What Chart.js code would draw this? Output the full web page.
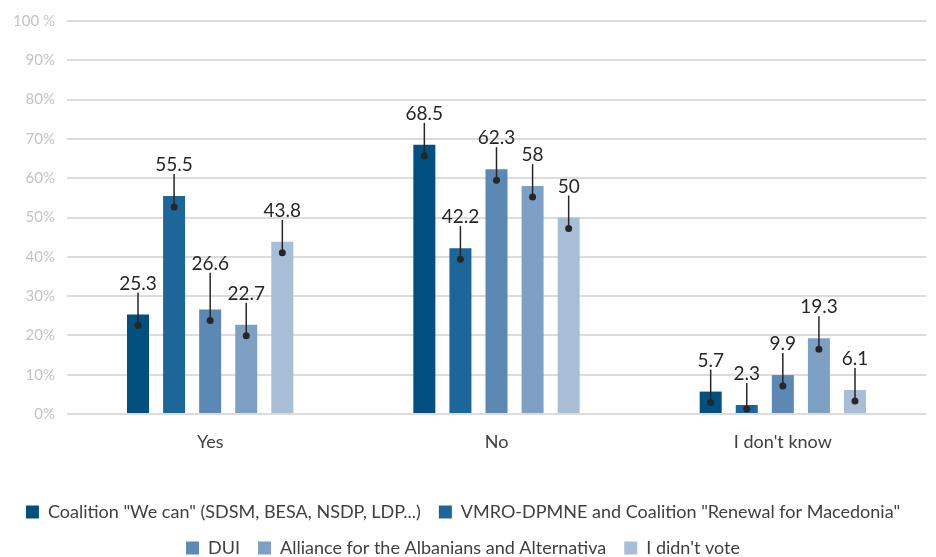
<!DOCTYPE html>
<html>
<head>
<meta charset="utf-8">
<script src="https://cdn.jsdelivr.net/npm/chart.js@4.4.1/dist/chart.umd.min.js"></script>
<style>
  html, body { margin: 0; padding: 0; background: #fff; }
  #contenedor { width: 936px; height: 557px; }
</style>
</head>
<body>
<div id="contenedor"><canvas id="grafico"></canvas></div>
<script>
// Datos
const categorias = ['Yes', 'No', "I don't know"];
const nombresSeries = [
  'Coalition "We can" (SDSM, BESA, NSDP, LDP...)',
  'VMRO-DPMNE and Coalition "Renewal for Macedonia"',
  'DUI',
  'Alliance for the Albanians and Alternativa',
  "I didn't vote"
];
const coalicionWeCan = [25.3, 68.5, 5.7];
const vmroRenovacion = [55.5, 42.2, 2.3];
const dui = [26.6, 62.3, 9.9];
const alianza = [22.7, 58, 19.3];
const noVoto = [43.8, 50, 6.1];
const etiquetasEjeY = ['0%', '10%', '20%', '30%', '40%', '50%', '60%', '70%', '80%', '90%', '100 %'];

const colores = ['#02507f', '#1c6699', '#5b89b4', '#7fa0c5', '#a8bed7'];
const fuente = 'Lato, "Noto Sans", sans-serif';

// Etiquetas con línea guía y punto, como en Excel
const etiquetasValor = {
  id: 'etiquetasValor',
  afterDatasetsDraw(chart) {
    const ctx = chart.ctx;
    const base = chart.scales.y.getPixelForValue(0);
    const colocadas = [];
    ctx.save();
    ctx.font = '19px ' + fuente;
    ctx.fillStyle = '#262626';
    ctx.strokeStyle = '#262626';
    ctx.lineWidth = 1.5;
    ctx.textAlign = 'center';
    ctx.textBaseline = 'alphabetic';
    // de derecha a izquierda: si chocan, sube la de la izquierda
    for (let d = chart.data.datasets.length - 1; d >= 0; d--) {
      const meta = chart.getDatasetMeta(d);
      meta.data.forEach((barra, i) => {
        const texto = String(chart.data.datasets[d].data[i]);
        const ancho = ctx.measureText(texto).width;
        let linea = barra.y - 25;
        const caja = () => ({ l: barra.x - ancho / 2 - 1, r: barra.x + ancho / 2 + 1, t: linea - 22, b: linea + 4 });
        let c = caja();
        let choca = true;
        while (choca) {
          choca = false;
          for (const p of colocadas) {
            if (c.l < p.r && c.r > p.l && c.t < p.b && c.b > p.t) {
              linea = p.t - 8;
              c = caja();
              choca = true;
            }
          }
        }
        colocadas.push(c);
        const yPunto = Math.min(barra.y + 11, base - 5);
        ctx.beginPath();
        ctx.moveTo(barra.x, yPunto);
        ctx.lineTo(barra.x, linea + 3);
        ctx.stroke();
        ctx.beginPath();
        ctx.arc(barra.x, yPunto, 3.5, 0, Math.PI * 2);
        ctx.fill();
        ctx.fillText(texto, barra.x, linea);
      });
    }
    ctx.restore();
  }
};

const series = [coalicionWeCan, vmroRenovacion, dui, alianza, noVoto];

new Chart(document.getElementById('grafico'), {
  type: 'bar',
  data: {
    labels: categorias,
    datasets: series.map((valores, i) => ({
      label: nombresSeries[i],
      data: valores,
      backgroundColor: colores[i],
      borderWidth: 0,
      categoryPercentage: 0.63,
      barPercentage: 0.61
    }))
  },
  options: {
    responsive: true,
    maintainAspectRatio: false,
    animation: false,
    layout: { padding: { top: 19, right: 10, left: 0, bottom: 0 } },
    plugins: {
      tooltip: { enabled: false },
      legend: {
        position: 'bottom',
        maxHeight: 72,
        labels: {
          boxWidth: 13,
          boxHeight: 13,
          padding: 18,
          color: '#404040',
          font: { size: 18, family: fuente }
        }
      }
    },
    scales: {
      x: {
        grid: { display: false },
        border: { display: false },
        ticks: { color: '#404040', padding: 9, font: { size: 18, family: fuente } },
        afterFit(escala) { escala.height = 71; }
      },
      y: {
        min: 0,
        max: 100,
        border: { display: false },
        grid: { color: '#dcdcdc', lineWidth: 2, drawTicks: false },
        ticks: {
          stepSize: 10,
          padding: 12,
          color: '#c4c4c4',
          font: { size: 15, family: fuente },
          callback: (v, i) => etiquetasEjeY[i]
        },
        afterFit(escala) { escala.width = 67; }
      }
    }
  },
  plugins: [etiquetasValor]
});
</script>
</body>
</html>
